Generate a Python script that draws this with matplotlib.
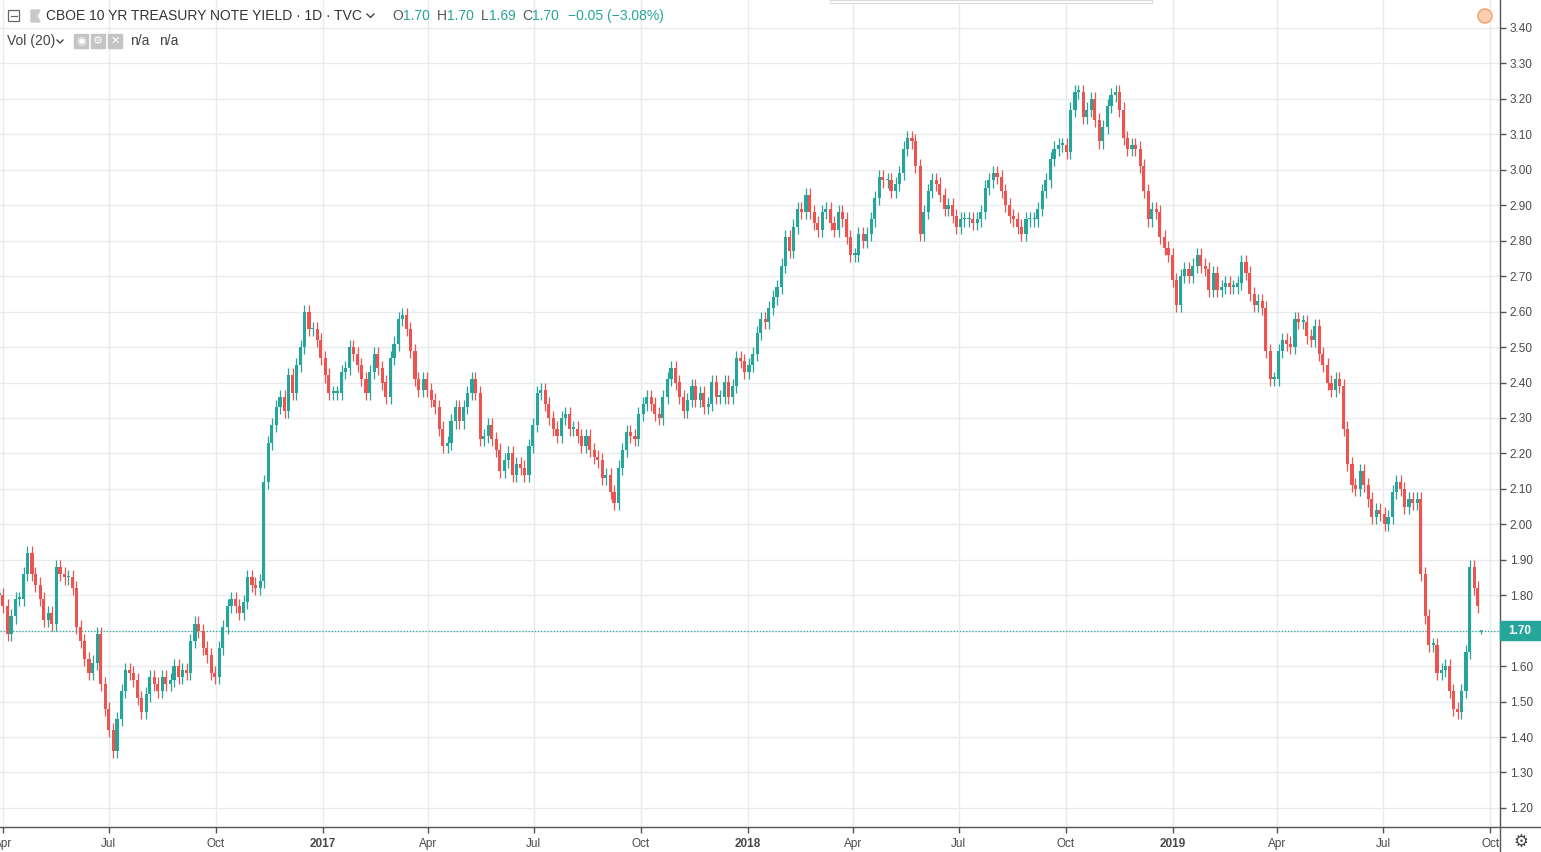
import matplotlib
matplotlib.use('Agg')
import matplotlib.pyplot as plt
import matplotlib.dates as mdates
from matplotlib.patches import Rectangle, Ellipse, Polygon
from matplotlib.lines import Line2D
import numpy as np
import pandas as pd

plt.rcParams['font.family'] = ['Liberation Sans', 'DejaVu Sans']

# bars: two per week (Tuesday, Friday), closes
fridays = pd.date_range('2016-04-01', '2019-09-20', freq='W-FRI')
tuesdays = fridays - pd.Timedelta(days=3)
bar_dates = np.array(sorted(list(tuesdays) + list(fridays)))

closes = np.array([
    # 2016
    1.80, 1.77, 1.69, 1.74, 1.79, 1.79, 1.86, 1.92, 1.86, 1.83,
    1.79, 1.73, 1.75, 1.72, 1.88, 1.86, 1.85, 1.85, 1.82, 1.71,
    1.67, 1.62, 1.58, 1.61, 1.69, 1.55, 1.48, 1.42, 1.36, 1.45,
    1.53, 1.59, 1.58, 1.56, 1.51, 1.47, 1.52, 1.57, 1.55, 1.53,
    1.57, 1.55, 1.56, 1.60, 1.57, 1.59, 1.58, 1.67, 1.72, 1.70,
    1.65, 1.63, 1.58, 1.57, 1.65, 1.71, 1.77, 1.79, 1.77, 1.75,
    1.78, 1.85, 1.83, 1.82, 1.84, 2.12, 2.23, 2.28, 2.33, 2.36,
    2.32, 2.42, 2.37, 2.45, 2.50, 2.60, 2.55, 2.55, 2.52, 2.47,
    # 2017
    2.42, 2.37, 2.37, 2.37, 2.43, 2.44, 2.50, 2.48, 2.45, 2.41,
    2.37, 2.43, 2.48, 2.44, 2.40, 2.36, 2.47, 2.51, 2.58, 2.59,
    2.55, 2.49, 2.41, 2.38, 2.41, 2.38, 2.35, 2.33, 2.27, 2.22,
    2.23, 2.29, 2.33, 2.29, 2.33, 2.37, 2.41, 2.37, 2.24, 2.25,
    2.28, 2.24, 2.21, 2.15, 2.18, 2.20, 2.14, 2.17, 2.16, 2.14,
    2.22, 2.28, 2.37, 2.38, 2.34, 2.30, 2.27, 2.25, 2.30, 2.31,
    2.27, 2.27, 2.25, 2.22, 2.25, 2.21, 2.19, 2.18, 2.13, 2.14,
    2.09, 2.06, 2.16, 2.21, 2.26, 2.25, 2.24, 2.31, 2.34, 2.36,
    2.34, 2.31, 2.30, 2.36, 2.41, 2.44, 2.40, 2.36, 2.32, 2.35,
    2.39, 2.35, 2.37, 2.33, 2.34, 2.40, 2.36, 2.36, 2.40, 2.36,
    2.39, 2.47, 2.46, 2.43,
    # 2018
    2.45, 2.48, 2.54, 2.58, 2.57, 2.61, 2.64, 2.67, 2.73, 2.81,
    2.77, 2.84, 2.89, 2.88, 2.93, 2.88, 2.85, 2.83, 2.88, 2.89,
    2.85, 2.83, 2.88, 2.86, 2.81, 2.76, 2.76, 2.82, 2.80, 2.82,
    2.86, 2.92, 2.98, 2.97, 2.97, 2.94, 2.96, 2.99, 3.06, 3.09,
    3.08, 3.01, 2.82, 2.88, 2.94, 2.97, 2.96, 2.93, 2.89, 2.90,
    2.87, 2.84, 2.86, 2.86, 2.86, 2.85, 2.86, 2.88, 2.95, 2.97,
    2.99, 2.98, 2.94, 2.90, 2.87, 2.86, 2.84, 2.82, 2.86, 2.86,
    2.86, 2.89, 2.94, 2.97, 3.03, 3.06, 3.07, 3.07, 3.05, 3.17,
    3.22, 3.22, 3.15, 3.17, 3.20, 3.14, 3.08, 3.12, 3.18, 3.21,
    3.22, 3.17, 3.09, 3.06, 3.07, 3.06, 3.01, 2.94, 2.86, 2.89,
    2.88, 2.81, 2.78, 2.76,
    # 2019
    2.69, 2.62, 2.70, 2.72, 2.70, 2.73, 2.76, 2.73, 2.72, 2.66,
    2.71, 2.66, 2.67, 2.68, 2.67, 2.67, 2.68, 2.74, 2.71, 2.65,
    2.62, 2.63, 2.61, 2.49, 2.41, 2.41, 2.49, 2.52, 2.51, 2.50,
    2.58, 2.57, 2.57, 2.53, 2.52, 2.56, 2.48, 2.45, 2.40, 2.38,
    2.41, 2.39, 2.27, 2.17, 2.11, 2.10, 2.15, 2.11, 2.07, 2.02,
    2.04, 2.03, 2.00, 2.02, 2.09, 2.12, 2.10, 2.05, 2.07, 2.06,
    2.07, 1.86, 1.74, 1.66, 1.66, 1.58, 1.59, 1.60, 1.53, 1.48,
    1.47, 1.53, 1.64, 1.88, 1.82, 1.77,
])

# last (current) bar from the header: O H L C
last_date = pd.Timestamp('2019-09-23')
last_ohlc = [1.70, 1.70, 1.69, 1.70]

y_ticks = np.round(np.arange(1.2, 3.41, 0.1), 2)
x_ticks = pd.date_range('2016-04-01', '2019-10-01', freq='QS')
x_labels = [d.strftime('%Y') if d.month == 1 else d.strftime('%b') for d in x_ticks]

UP = '#26a69a'
DOWN = '#ef5350'
GRID = '#e8ebee'
TXT = '#4a4a4a'

W, H = 1541, 852
fig = plt.figure(figsize=(W / 100, H / 100), dpi=100)


def fx(px):
    return px / W


def fy(py):
    return 1 - py / H


ax = fig.add_axes([0, fy(827), fx(1500), 827 / H])

x = mdates.date2num(bar_dates)
opens = np.r_[closes[0], closes[:-1]]
up = closes >= opens
cols = np.where(up, UP, DOWN)
lo = np.minimum(opens, closes)
hi = np.maximum(opens, closes)
wick = 0.02
ax.vlines(x, lo - wick, hi + wick, colors=cols, linewidth=0.9, zorder=3)
ax.bar(x, np.maximum(hi - lo, 0.005), bottom=lo, width=2.7, color=cols,
       linewidth=0, zorder=4)

lx = mdates.date2num(last_date)
ax.vlines(lx, last_ohlc[2], last_ohlc[1], colors=UP, linewidth=0.9, zorder=3)
ax.hlines(last_ohlc[3], lx - 1.3, lx + 1.3, colors=UP, linewidth=1.2, zorder=4)

# current price line
ax.axhline(last_ohlc[3], color=UP, linewidth=0.9, linestyle=(0, (1, 1.5)), zorder=2)

d0 = mdates.date2num(pd.Timestamp('2017-01-01'))
ax.set_xlim(d0 - 323 / 1.164, d0 + (1500 - 323) / 1.164)
ax.set_ylim(3.40 - 799 / 354.5, 3.40 + 28 / 354.5)

ax.set_yticks(y_ticks)
# the 1.70 label sits under the price box
ax.set_yticklabels(['' if abs(v - last_ohlc[3]) < 1e-9 else '%.2f' % v for v in y_ticks])
ax.set_xticks(mdates.date2num(x_ticks))
ax.set_xticklabels(x_labels)
for lab, d in zip(ax.get_xticklabels(), x_ticks):
    if d.month == 1:
        lab.set_fontweight('bold')

ax.grid(True, color=GRID, linewidth=1, zorder=0)
ax.set_axisbelow(True)
for s in ax.spines.values():
    s.set_visible(False)
ax.tick_params(axis='y', left=False, right=True, labelleft=False, labelright=True,
               length=4, width=1, color='#555555', pad=3, labelsize=8.5,
               labelcolor=TXT)
ax.tick_params(axis='x', bottom=True, length=4, width=1, color='#555555',
               pad=4, labelsize=8.5, labelcolor=TXT)

# axis separators
fig.add_artist(Line2D([fx(1500), fx(1500)], [0, 1], color='#555555', linewidth=1))
fig.add_artist(Line2D([0, 1], [fy(827), fy(827)], color='#555555', linewidth=1))

# price label on the scale
fig.add_artist(Rectangle((fx(1500), fy(640)), fx(41), 19 / H, color=UP, zorder=5))
fig.text(fx(1508), fy(630.5), '1.70', color='white', fontsize=8.5,
         fontweight='bold', va='center', ha='left', zorder=6)

# header line 1
fig.add_artist(Rectangle((fx(8), fy(21)), fx(11), 11 / H, fill=False,
                         edgecolor='#666666', linewidth=0.9))
fig.add_artist(Line2D([fx(10.5), fx(16.5)], [fy(15.5), fy(15.5)], color='#666666', linewidth=0.9))
fig.add_artist(Polygon([(fx(31), fy(10)), (fx(40), fy(10)), (fx(37), fy(16)),
                        (fx(40), fy(22)), (fx(31), fy(22))], closed=True,
                       color='#c9c9c9'))
y1 = fy(16)
fig.text(fx(46), y1, 'CBOE 10 YR TREASURY NOTE YIELD \u00b7 1D \u00b7 TVC',
         fontsize=10, color='#333333', va='center', ha='left')
fig.add_artist(Line2D([fx(367), fx(370.5), fx(374)], [fy(14), fy(17.5), fy(14)],
                      color='#444444', linewidth=1))
for px_l, lab, dx, val in [(392, 'O', 11, '1.70'), (437, 'H', 10, '1.70'),
                           (481, 'L', 8, '1.69'), (522, 'C', 10, '1.70')]:
    fig.text(fx(px_l), y1, lab, fontsize=10, color='#555555', va='center', ha='left')
    fig.text(fx(px_l + dx), y1, val, fontsize=10, color=UP, va='center', ha='left')
fig.text(fx(568), y1, '\u22120.05 (\u22123.08%)', fontsize=10, color=UP,
         va='center', ha='left')

# header line 2
y2 = fy(41)
fig.text(fx(7), y2, 'Vol (20)', fontsize=10, color='#444444', va='center', ha='left')
fig.add_artist(Line2D([fx(57), fx(60), fx(63)], [fy(40), fy(43), fy(40)],
                      color='#444444', linewidth=1))
for ix, g in zip([74, 91, 108], ['\u25c9', '\u2699', '\u2715']):
    fig.add_artist(Rectangle((fx(ix), fy(48)), fx(14), 14 / H, color='#c4c4c4'))
    fig.text(fx(ix + 7), fy(41), g, fontsize=8, color='white', va='center',
             ha='center', family=['DejaVu Sans'])
fig.text(fx(130), y2, 'n/a', fontsize=10, color='#444444', va='center', ha='left')
fig.text(fx(159), y2, 'n/a', fontsize=10, color='#444444', va='center', ha='left')

# top popup edge
fig.add_artist(Rectangle((fx(830), fy(3)), fx(322), 3 / H, facecolor='white',
                         edgecolor='#dcdcdc', linewidth=0.8))

# orange alert dot
fig.add_artist(Ellipse((fx(1485), fy(16)), fx(14), 14 / H, facecolor='#fbcfb0',
                       edgecolor='#f4a067', linewidth=1))

# settings gear
fig.text(fx(1521), fy(842), '\u2699', fontsize=12, color='#444444', va='center',
         ha='center', family=['DejaVu Sans'])

fig.savefig('out.png', dpi=100)
